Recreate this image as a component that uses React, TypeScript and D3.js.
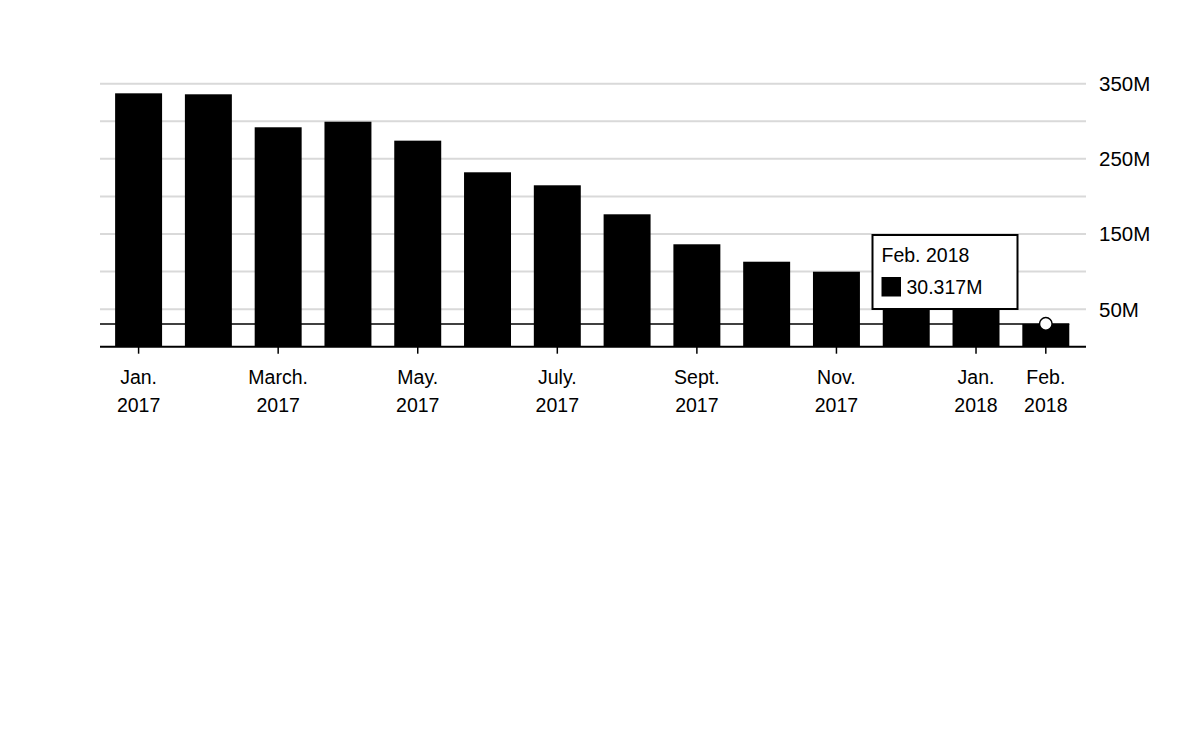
import React from "react";
import * as d3 from "d3";

const months = [
  "Jan. 2017", "Feb. 2017", "March. 2017", "April. 2017", "May. 2017", "June. 2017", "July. 2017",
  "Aug. 2017", "Sept. 2017", "Oct. 2017", "Nov. 2017", "Dec. 2017", "Jan. 2018", "Feb. 2018",
];
const values = [337.2, 335.9, 292.0, 299.4, 274.2, 232.1, 214.8, 176.2, 136.3, 113.1, 99.8, 78, 62, 30.317];
const tickMonths = ["Jan. 2017", "March. 2017", "May. 2017", "July. 2017", "Sept. 2017", "Nov. 2017", "Jan. 2018", "Feb. 2018"];
const gridValues = [50, 100, 150, 200, 250, 300, 350];
const yLabelValues = [50, 150, 250, 350];
const highlight = { month: "Feb. 2018", value: 30.317, label: "30.317M" };

const FONT = "'Liberation Sans', Arial, Helvetica, sans-serif";

export default function App() {
  const x = d3.scaleBand<string>().domain(months).range([103.6, 1080.8]).paddingInner(0.327).paddingOuter(0.165);
  const y = d3.scaleLinear().domain([0, 350]).range([346.7, 83.7]);
  const left = 100;
  const right = 1086;
  const hx = (x(highlight.month) as number) + x.bandwidth() / 2;
  const hy = y(highlight.value);
  const lastBarEnd = (x(highlight.month) as number) + x.bandwidth();

  return (
    <svg width={1200} height={735} style={{ position: "absolute", left: 0, top: 0, background: "#fff" }} fontFamily={FONT}>
      {gridValues.map((v) => (
        <line key={v} x1={left} x2={right} y1={y(v)} y2={y(v)} stroke="#d9d9d9" strokeWidth={2} />
      ))}
      {yLabelValues.map((v) => (
        <text key={v} x={1099} y={y(v)} dy="0.36em" fontSize={20.5} fill="#000">{`${v}M`}</text>
      ))}
      <line x1={left} x2={lastBarEnd} y1={hy} y2={hy} stroke="#000" strokeWidth={1.5} />
      {months.map((m, i) => (
        <rect key={m} x={x(m)} y={y(values[i])} width={x.bandwidth()} height={y(0) - y(values[i])} fill="#000" />
      ))}
      <line x1={left} x2={right} y1={y(0)} y2={y(0)} stroke="#000" strokeWidth={2} />
      {tickMonths.map((m) => {
        const cx = (x(m) as number) + x.bandwidth() / 2;
        const [mon, yr] = m.split(" ");
        return (
          <g key={m}>
            <line x1={cx} x2={cx} y1={y(0)} y2={y(0) + 7} stroke="#000" strokeWidth={1.5} />
            <text x={cx} y={383.5} textAnchor="middle" fontSize={19.5} fill="#000">{mon}</text>
            <text x={cx} y={412} textAnchor="middle" fontSize={19.5} fill="#000">{yr}</text>
          </g>
        );
      })}
      <circle cx={hx} cy={hy} r={6.3} fill="#fff" stroke="#000" strokeWidth={1.5} />
      <g>
        <rect x={872.5} y={235} width={145} height={74} fill="#fff" stroke="#000" strokeWidth={2} />
        <text x={881.5} y={262} fontSize={19.5} fill="#000">{highlight.month}</text>
        <rect x={881.5} y={277} width={19.5} height={19.5} fill="#000" />
        <text x={906.5} y={294} fontSize={19.5} fill="#000">{highlight.label}</text>
      </g>
    </svg>
  );
}
